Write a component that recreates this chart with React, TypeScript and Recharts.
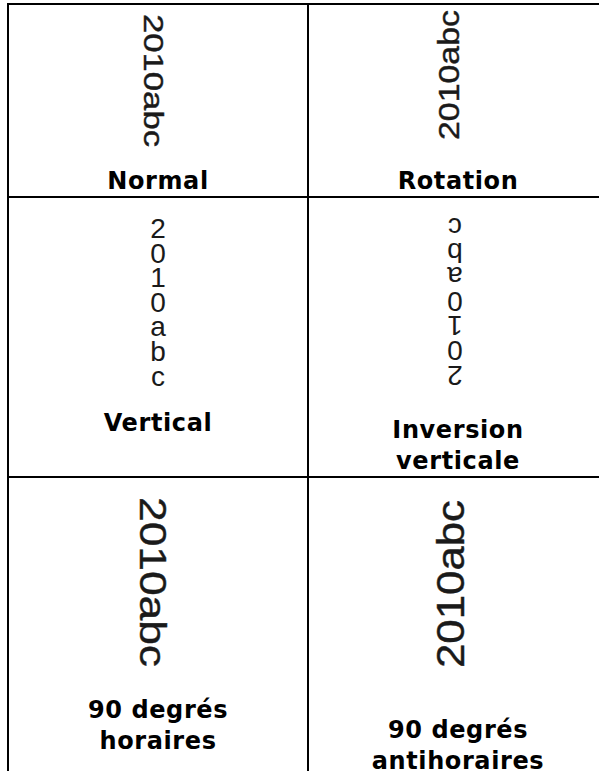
import { ScatterChart, Scatter, XAxis, YAxis, ReferenceLine } from 'recharts';

// contenu des cellules, de gauche à droite puis de haut en bas
const SAMPLE = '2010abc';
const cellModes = ['normal', 'rotation', 'vertical', 'flip', 'cw', 'ccw'];
const cellLabels = [
  ['Normal'],
  ['Rotation'],
  ['Vertical'],
  ['Inversion', 'verticale'],
  ['90 degrés', 'horaires'],
  ['90 degrés', 'antihoraires'],
];

// mise en page du tableau (en pixels)
const ROW_HEIGHTS = [193, 280, 307];
const TABLE_H = ROW_HEIGHTS.reduce((a, b) => a + b, 0);
const ROW_TOPS = ROW_HEIGHTS.map((_, i) => ROW_HEIGHTS.slice(0, i).reduce((a, b) => a + b, 0));
const LABEL_TOP = [185, 185, 234, 241, 241, 261];
const LABEL_LINE = 31;

const SAMPLE_FONT = '"Liberation Sans", Arial, sans-serif';
const LABEL_FONT = '"DejaVu Sans", Verdana, sans-serif';

const MODE_STYLE: Record<string, any> = {
  normal: { dx: -5, dy: 76.5, fontSize: 28, length: 133, rotate: 90 },
  rotation: { dx: -9.5, dy: 71, fontSize: 30, length: 130, rotate: -90 },
  cw: { dx: -5.5, dy: 105, fontSize: 37, length: 170, rotate: 90 },
  ccw: { dx: -7, dy: 107, fontSize: 38, length: 168, rotate: -90 },
  vertical: { dx: 0, base: 41, pitch: 24.6, fontSize: 28 },
  flip: { dx: -3, base: 41, pitch: 24.6, fontSize: 28, rotate: 180 },
};

const cells = cellModes.map((mode, i) => ({
  col: (i % 2) + 0.5,
  top: ROW_TOPS[Math.floor(i / 2)],
  mode,
  label: cellLabels[i],
  idx: i,
}));

function CellShape(props: any) {
  const { cx, cy, payload } = props;
  const st = MODE_STYLE[payload.mode];
  const sx = cx + st.dx;
  let sample;
  if (payload.mode === 'vertical' || payload.mode === 'flip') {
    const chars = SAMPLE.split('');
    const mid = cy + st.base - 20 + ((chars.length - 1) * st.pitch + 20) / 2;
    sample = (
      <text
        x={sx}
        y={cy + st.base}
        textAnchor="middle"
        fontFamily={SAMPLE_FONT}
        fontSize={st.fontSize}
        fill="#1a1a1a"
        transform={st.rotate ? `rotate(${st.rotate} ${sx} ${mid})` : undefined}
      >
        {chars.map((c, k) => (
          <tspan key={k} x={sx} dy={k === 0 ? 0 : st.pitch}>
            {c}
          </tspan>
        ))}
      </text>
    );
  } else {
    const sy = cy + st.dy;
    sample = (
      <text
        x={sx}
        y={sy}
        textAnchor="middle"
        dominantBaseline="central"
        fontFamily={SAMPLE_FONT}
        fontSize={st.fontSize}
        textLength={st.length}
        lengthAdjust="spacingAndGlyphs"
        fill="#1a1a1a"
        stroke="#1a1a1a"
        strokeWidth={0.4}
        transform={`rotate(${st.rotate} ${sx} ${sy})`}
      >
        {SAMPLE}
      </text>
    );
  }
  return (
    <g>
      {sample}
      {payload.label.map((line: string, k: number) => (
        <text
          key={k}
          x={cx}
          y={cy + LABEL_TOP[payload.idx] + k * LABEL_LINE}
          textAnchor="middle"
          fontFamily={LABEL_FONT}
          fontWeight="bold"
          fontSize={24}
          letterSpacing={0.6}
          fill="#000"
        >
          {line}
        </text>
      ))}
    </g>
  );
}

export default function App() {
  const lineProps = { stroke: '#000', strokeWidth: 2, strokeLinecap: 'square' as const };
  return (
    <div style={{ position: 'absolute', left: 0, top: 0, width: 599, height: 771, overflow: 'hidden', background: '#fff' }}>
      <ScatterChart width={608} height={4 + TABLE_H} margin={{ top: 4, right: 0, bottom: 0, left: 8 }}>
        <XAxis type="number" dataKey="col" domain={[0, 2]} hide />
        <YAxis type="number" dataKey="top" domain={[0, TABLE_H]} reversed hide />
        <ReferenceLine x={0} {...lineProps} />
        <ReferenceLine x={1} {...lineProps} />
        <ReferenceLine x={2} {...lineProps} />
        {ROW_TOPS.map((t) => (
          <ReferenceLine key={t} y={t} {...lineProps} />
        ))}
        <ReferenceLine y={TABLE_H} {...lineProps} />
        <Scatter data={cells} shape={CellShape} isAnimationActive={false} />
      </ScatterChart>
    </div>
  );
}
